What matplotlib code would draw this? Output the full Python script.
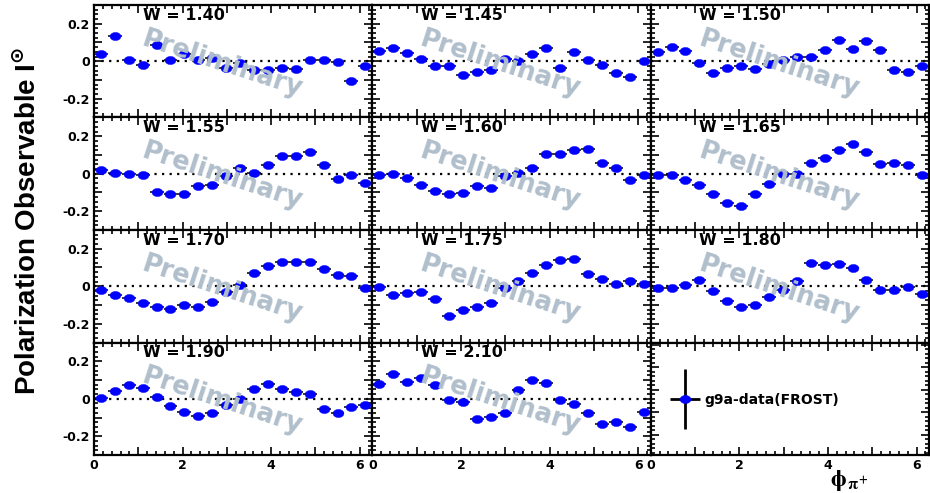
import numpy as np
import matplotlib
matplotlib.use('Agg')
import matplotlib.pyplot as plt
from matplotlib.path import Path
from matplotlib.lines import Line2D
from matplotlib.collections import LineCollection
from matplotlib.container import ErrorbarContainer
from matplotlib.legend_handler import HandlerErrorbar
from matplotlib.ticker import FixedLocator, MultipleLocator, FuncFormatter

# ---------------- data ----------------
phi = [0.157, 0.471, 0.785, 1.100, 1.414, 1.728, 2.042, 2.356, 2.670, 2.985,
       3.299, 3.613, 3.927, 4.241, 4.555, 4.869, 5.184, 5.498, 5.812, 6.126]
phi_halfwidth = 0.157

W_labels = ['W = 1.40', 'W = 1.45', 'W = 1.50', 'W = 1.55', 'W = 1.60', 'W = 1.65',
            'W = 1.70', 'W = 1.75', 'W = 1.80', 'W = 1.90', 'W = 2.10']

I_w140 = [0.039, 0.132, 0.005, -0.021, 0.089, 0.005, 0.036, 0.009, 0.018, -0.036,
          -0.009, -0.048, -0.045, -0.036, -0.041, 0.009, 0.005, -0.002, -0.107, -0.023]
I_w145 = [0.053, 0.068, 0.045, 0.014, -0.027, -0.023, -0.071, -0.057, -0.048, 0.012,
          0.000, 0.036, 0.071, -0.036, 0.050, 0.004, -0.021, -0.062, -0.084, 0.000]
I_w150 = [0.050, 0.077, 0.053, -0.009, -0.062, -0.036, -0.027, -0.041, -0.014, 0.004,
          0.021, 0.023, 0.062, 0.112, 0.066, 0.107, 0.061, -0.045, -0.057, -0.023]
I_w155 = [0.021, 0.005, 0.000, -0.009, -0.098, -0.110, -0.106, -0.067, -0.062, -0.012,
          0.028, 0.005, 0.046, 0.094, 0.092, 0.115, 0.044, -0.030, -0.009, -0.048]
I_w160 = [-0.009, 0.000, -0.025, -0.062, -0.092, -0.110, -0.101, -0.066, -0.074, -0.012,
          0.005, 0.032, 0.103, 0.106, 0.129, 0.133, 0.059, 0.032, -0.034, -0.007]
I_w165 = [-0.009, -0.007, -0.035, -0.062, -0.110, -0.154, -0.172, -0.106, -0.057, -0.004,
          0.000, 0.059, 0.085, 0.124, 0.156, 0.115, 0.053, 0.059, 0.044, -0.007]
I_w170 = [-0.021, -0.044, -0.062, -0.089, -0.110, -0.119, -0.101, -0.113, -0.083, -0.030,
          0.005, 0.071, 0.106, 0.129, 0.129, 0.129, 0.094, 0.059, 0.055, -0.007]
I_w175 = [-0.004, -0.044, -0.035, -0.030, -0.066, -0.160, -0.128, -0.113, -0.087, -0.012,
          0.028, 0.071, 0.112, 0.142, 0.147, 0.067, 0.041, 0.011, 0.028, 0.011]
I_w180 = [-0.009, -0.012, 0.009, 0.035, -0.025, -0.078, -0.110, -0.101, -0.057, -0.021,
          0.028, 0.124, 0.115, 0.121, 0.099, 0.032, -0.018, -0.021, -0.004, -0.039]
I_w190 = [0.002, 0.044, 0.073, 0.059, 0.011, -0.039, -0.071, -0.092, -0.074, -0.034,
          0.000, 0.050, 0.080, 0.050, 0.035, 0.023, -0.057, -0.074, -0.044, -0.034]
I_w210 = [0.080, 0.133, 0.092, 0.112, 0.076, -0.004, -0.018, -0.106, -0.098, -0.074,
          0.048, 0.098, 0.085, -0.009, -0.030, -0.074, -0.135, -0.124, -0.149, -0.071]

series = [I_w140, I_w145, I_w150, I_w155, I_w160, I_w165,
          I_w170, I_w175, I_w180, I_w190, I_w210]
legend_label = 'g9a-data(FROST)'

# ---------------- style ----------------
plt.rcParams['font.family'] = ['DejaVu Sans']
plt.rcParams['font.weight'] = 'bold'
plt.rcParams['axes.unicode_minus'] = False

t = np.linspace(0, 2 * np.pi, 65)
ellipse = Path(np.column_stack([1.33 * np.cos(t), np.sin(t)]), closed=True)
BLUE = '#0000ff'
WATER = '#b0bfcb'

fig, axes = plt.subplots(4, 3, figsize=(9.3, 4.93), dpi=100)
fig.subplots_adjust(left=0.101, right=0.999, top=0.990, bottom=0.077,
                    wspace=0, hspace=0)

def ytick_fmt(v, pos):
    if abs(v) < 1e-9:
        return '0'
    if abs(abs(v) - 0.2) < 1e-9:
        return '%.1f' % v
    return ''

def xtick_fmt(v, pos):
    iv = int(round(v))
    return str(iv) if iv % 2 == 0 else ''

for idx, ax in enumerate(axes.flat):
    r, c = divmod(idx, 3)
    ax.set_xlim(0, 2 * np.pi)
    for s in ax.spines.values():
        s.set_linewidth(1.6)
    ax.xaxis.set_major_locator(MultipleLocator(1))
    ax.xaxis.set_minor_locator(MultipleLocator(0.2))
    ax.xaxis.set_major_formatter(FuncFormatter(xtick_fmt))
    ax.tick_params(which='both', direction='in', top=True, right=True,
                   labelsize=9, width=1.2)
    ax.tick_params(which='major', length=6, pad=3)
    ax.tick_params(which='minor', length=3)
    if idx < 11:
        ax.set_ylim(-0.3, 0.3)
        ax.yaxis.set_major_locator(FixedLocator([-0.2, -0.1, 0.0, 0.1, 0.2]))
        ax.yaxis.set_minor_locator(MultipleLocator(0.025))
        ax.yaxis.set_major_formatter(FuncFormatter(ytick_fmt))
        ax.axhline(0, color='black', ls=(0, (1.0, 2.4)), lw=1.6, zorder=1)
        ax.errorbar(phi, series[idx], xerr=phi_halfwidth, fmt='none',
                    ecolor='black', elinewidth=1.1, capsize=0, zorder=2)
        ax.plot(phi, series[idx], ls='none', marker=ellipse, ms=7.8,
                color=BLUE, mec=BLUE, mew=0.3, zorder=3)
        ax.text(0.175, 0.868, W_labels[idx], transform=ax.transAxes,
                fontsize=11.5, fontweight='bold', ha='left', va='baseline',
                zorder=5)
        ax.text(0.46, 0.475, 'Preliminary', transform=ax.transAxes,
                fontsize=18.5, fontweight='bold', color=WATER, rotation=-18,
                ha='center', va='center', rotation_mode='anchor', zorder=4)
    else:
        ax.set_ylim(-0.18, 0.82)
        ax.yaxis.set_major_locator(MultipleLocator(0.2))
        ax.yaxis.set_minor_locator(MultipleLocator(0.04))
        ax.set_yticklabels([])
    if c != 0:
        ax.tick_params(labelleft=False)
    if r != 3:
        ax.tick_params(labelbottom=False)

# legend panel
axL = axes[3, 2]
proxy_line = Line2D([], [], ls='none', marker=ellipse, ms=7.8, color=BLUE,
                    mec=BLUE, mew=0.3)
proxy_bar = LineCollection([], colors='black', linewidths=2.0)
proxy = ErrorbarContainer((proxy_line, (), (proxy_bar,)), has_xerr=True, has_yerr=True)
axL.legend(handles=[proxy], labels=[legend_label], loc='center left',
           bbox_to_anchor=(0.074, 0.49), frameon=False, borderpad=0,
           borderaxespad=0, handlelength=2.0, handletextpad=0.4,
           prop=dict(weight='bold', size=10),
           handler_map={proxy: HandlerErrorbar(xerr_size=1.08, yerr_size=2.16)})

# axis titles
fig.text(0.030, 0.552, r'Polarization Observable I$^{\mathbf{\odot}}$',
         rotation=90, ha='center', va='center', fontsize=20,
         fontweight='bold', family='Liberation Sans')
fig.text(830 / 930, 1 - 486 / 493, r'$\mathrm{\phi}_{\,\mathrm{\pi}^{+}}$',
         fontsize=17, math_fontfamily='stix', ha='left', va='baseline')

fig.savefig('out.png', dpi=100)
